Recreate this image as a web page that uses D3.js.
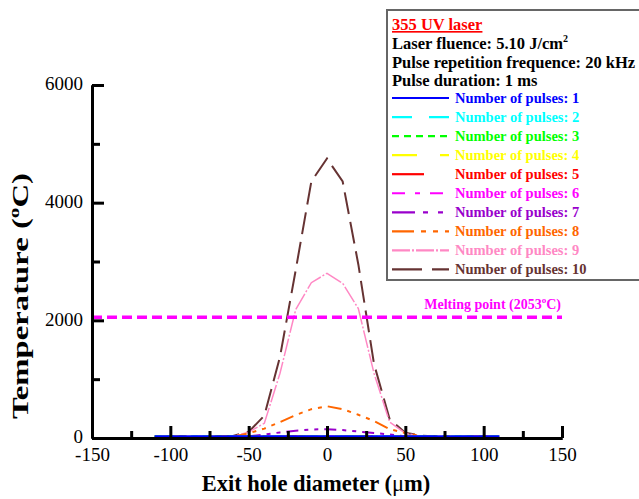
<!DOCTYPE html>
<html>
<head>
<meta charset="utf-8">
<script src="https://cdn.jsdelivr.net/npm/d3@7"></script>
<style>
  body { margin: 0; background: #fff; }
  svg { display: block; font-family: "Liberation Serif", "Times New Roman", serif; }
</style>
</head>
<body>
<div id="vis"></div>
<script>
// temperature profiles across the exit hole, one per pulse count
const xWide = [-110, -100, -90, -80, -70, -60, -50, -40, -30, -20, -10, 0, 10, 20, 30, 40, 50, 60, 70, 80, 90, 100, 110];
const xPulse7 = [-50, -40, -30, -20, -10, 0, 10, 20, 30, 40, 50];
const xPulse8 = [-60, -50, -40, -30, -20, -10, 0, 10, 20, 30, 40, 50, 60];
const xPeak = [-70, -60, -50, -40, -30, -20, -10, 0, 10, 20, 30, 40, 50, 60, 70];

const tempP1 = [25, 25, 25, 25, 25, 25, 25, 25, 25, 25, 25, 25, 25, 25, 25, 25, 25, 25, 25, 25, 25, 25, 25];
const tempP2 = [25, 25, 25, 25, 25, 25, 25, 25, 25, 25, 25, 25, 25, 25, 25, 25, 25, 25, 25, 25, 25, 25, 25];
const tempP3 = [25, 25, 25, 25, 25, 25, 25, 25, 25, 25, 25, 25, 25, 25, 25, 25, 25, 25, 25, 25, 25, 25, 25];
const tempP4 = [25, 25, 25, 25, 25, 25, 25, 25, 25, 25, 25, 25, 25, 25, 25, 25, 25, 25, 25, 25, 25, 25, 25];
const tempP5 = [25, 25, 25, 25, 25, 25, 25, 25, 25, 25, 25, 25, 25, 25, 25, 25, 25, 25, 25, 25, 25, 25, 25];
const tempP6 = [25, 25, 25, 25, 25, 25, 25, 25, 25, 25, 25, 25, 25, 25, 25, 25, 25, 25, 25, 25, 25, 25, 25];
const tempP7 = [30, 60, 95, 125, 145, 150, 135, 110, 85, 60, 30];
const tempP8 = [20, 80, 160, 270, 390, 490, 540, 490, 395, 290, 150, 85, 30];
const tempP9 = [20, 30, 100, 250, 1100, 2180, 2640, 2800, 2630, 2200, 1100, 270, 80, 30, 20];
const tempP10 = [25, 35, 105, 380, 1380, 2850, 4360, 4750, 4360, 2950, 1260, 320, 90, 40, 25];

const meltingPoint = 2053;

const pulseLabels = ['Number of pulses: 1', 'Number of pulses: 2', 'Number of pulses: 3', 'Number of pulses: 4',
  'Number of pulses: 5', 'Number of pulses: 6', 'Number of pulses: 7', 'Number of pulses: 8',
  'Number of pulses: 9', 'Number of pulses: 10'];
const pulseColors = ['#0000ff', '#00ffff', '#00ff00', '#ffff00', '#ff0000', '#ff00ff', '#9900cc', '#ff6600', '#ff88c4', '#663333'];
const pulseDashes = ['', '20,17', '7,5', '25,23', '32,30', '13,10,5,10', '23,8,5,10,5,8', '22,7,5,7,5,7,5,7', '18,2,2,2', '30,10'];
const plotDashes = ['', '20,17', '7,5', '25,23', '32,30', '13,10,5,10', '12,6,4,6,4,6', '14,6,4,6,4,6,4,6', '18,2,2,2', '22,8'];
const pulseWidths = [2.5, 2, 2, 2, 2, 2, 2, 2, 1.5, 2];

const xSeries = [xWide, xWide, xWide, xWide, xWide, xWide, xPulse7, xPulse8, xPeak, xPeak];
const ySeries = [tempP1, tempP2, tempP3, tempP4, tempP5, tempP6, tempP7, tempP8, tempP9, tempP10];

const xMajor = [-150, -100, -50, 0, 50, 100, 150];
const xMinor = [-125, -75, -25, 25, 75, 125];
const yMajor = [0, 2000, 4000, 6000];
const yMinor = [1000, 3000, 5000];

const headerLines = ['Laser fluence: 5.10 J/cm', 'Pulse repetition frequence: 20 kHz', 'Pulse duration: 1 ms'];

const W = 639, H = 499;
const svg = d3.select('#vis').append('svg')
  .attr('width', W).attr('height', H)
  .style('background', '#fff');

const x = d3.scaleLinear().domain([-150, 150]).range([92, 562]);
const y = d3.scaleLinear().domain([0, 6000]).range([438, 85]);

// curves, pulse 10 first so the low pulse counts sit on top
const line = d3.line().x(d => x(d[0])).y(d => y(d[1]));
const curves = svg.append('g');
for (let i = 9; i >= 0; i--) {
  const pts = xSeries[i].map((v, k) => [v, ySeries[i][k]]);
  curves.append('path')
    .attr('d', line(pts))
    .attr('fill', 'none')
    .attr('stroke', pulseColors[i])
    .attr('stroke-width', pulseWidths[i])
    .attr('stroke-dasharray', plotDashes[i]);
}

// melting point reference line
svg.append('line')
  .attr('x1', x(-150)).attr('x2', x(150))
  .attr('y1', y(meltingPoint)).attr('y2', y(meltingPoint))
  .attr('stroke', '#ff00ff').attr('stroke-width', 3.5)
  .attr('stroke-dasharray', '10,5');

const mp = svg.append('text')
  .attr('x', 561).attr('y', y(meltingPoint) - 8)
  .attr('text-anchor', 'end')
  .attr('font-size', 14).attr('font-weight', 'bold')
  .attr('fill', '#ff00ff');
mp.append('tspan').text('Melting point (' + meltingPoint);
mp.append('tspan').attr('font-size', 9).attr('dy', -6).text('o');
mp.append('tspan').attr('dy', 6).text('C)');

// axes, ticks pointing inward
const axisStyle = g => {
  g.select('.domain').attr('stroke-width', 3).attr('stroke', '#000');
  g.selectAll('.tick line').attr('stroke-width', 3).attr('stroke', '#000');
  g.selectAll('.tick text').attr('font-size', 19).attr('font-family', '"Liberation Serif", serif').attr('fill', '#000');
};
const plain = d => String(d);

svg.append('g')
  .attr('transform', 'translate(0,438)')
  .call(d3.axisBottom(x).tickValues(xMinor).tickSize(-7).tickSizeOuter(0).tickFormat(''))
  .call(axisStyle);
svg.append('g')
  .attr('transform', 'translate(0,438)')
  .call(d3.axisBottom(x).tickValues(xMajor).tickSize(-12).tickSizeOuter(0).tickPadding(10).tickFormat(plain))
  .call(axisStyle);

svg.append('g')
  .attr('transform', 'translate(92,0)')
  .call(d3.axisLeft(y).tickValues(yMinor).tickSize(-8).tickSizeOuter(0).tickFormat(''))
  .call(axisStyle);
svg.append('g')
  .attr('transform', 'translate(92,0)')
  .call(d3.axisLeft(y).tickValues(yMajor).tickSize(-12).tickSizeOuter(0).tickPadding(9).tickFormat(plain))
  .call(axisStyle)
  .call(g => g.selectAll('.tick text').attr('dy', '0.25em'));

// axis titles
const xt = svg.append('text')
  .attr('x', 316).attr('y', 491)
  .attr('text-anchor', 'middle')
  .attr('font-size', 22.5).attr('font-weight', 'bold');
xt.append('tspan').text('Exit hole diameter (');
xt.append('tspan').attr('font-weight', 'normal').text('\u03bc');
xt.append('tspan').text('m)');

const yt = svg.append('text')
  .attr('transform', 'translate(28,296) rotate(-90)')
  .attr('text-anchor', 'middle')
  .attr('font-size', 23).attr('font-weight', 'bold')
  .attr('textLength', 246).attr('lengthAdjust', 'spacingAndGlyphs');
yt.append('tspan').text('Temperature (');
yt.append('tspan').attr('font-size', 15).attr('dy', -9).text('o');
yt.append('tspan').attr('dy', 9).text('C)');

// legend box
const lg = svg.append('g');
lg.append('rect')
  .attr('x', 387).attr('y', 10).attr('width', 260).attr('height', 270)
  .attr('fill', '#fff').attr('stroke', '#666').attr('stroke-width', 2);

lg.append('text')
  .attr('x', 392).attr('y', 30)
  .attr('font-size', 16.5).attr('font-weight', 'bold')
  .attr('fill', '#ff0000').attr('text-decoration', 'underline')
  .text('355 UV laser');

headerLines.forEach((t, i) => {
  const tx = lg.append('text')
    .attr('x', 392).attr('y', 49 + i * 18.5)
    .attr('font-size', 16.5).attr('font-weight', 'bold').attr('fill', '#000');
  tx.append('tspan').text(t);
  if (i === 0) tx.append('tspan').attr('font-size', 10).attr('dy', -7).text('2');
});

const entries = lg.selectAll('.entry').data(pulseLabels)
  .enter().append('g')
  .attr('class', 'entry')
  .attr('transform', (d, i) => 'translate(0,' + (98 + i * 19.05) + ')');
entries.append('line')
  .attr('x1', 392).attr('x2', 449).attr('y1', 0).attr('y2', 0)
  .attr('stroke', (d, i) => pulseColors[i])
  .attr('stroke-width', 2.2)
  .attr('stroke-dasharray', (d, i) => pulseDashes[i]);
entries.append('text')
  .attr('x', 455).attr('y', 5)
  .attr('font-size', 14.5).attr('font-weight', 'bold')
  .attr('fill', (d, i) => pulseColors[i])
  .text(d => d);
</script>
</body>
</html>
